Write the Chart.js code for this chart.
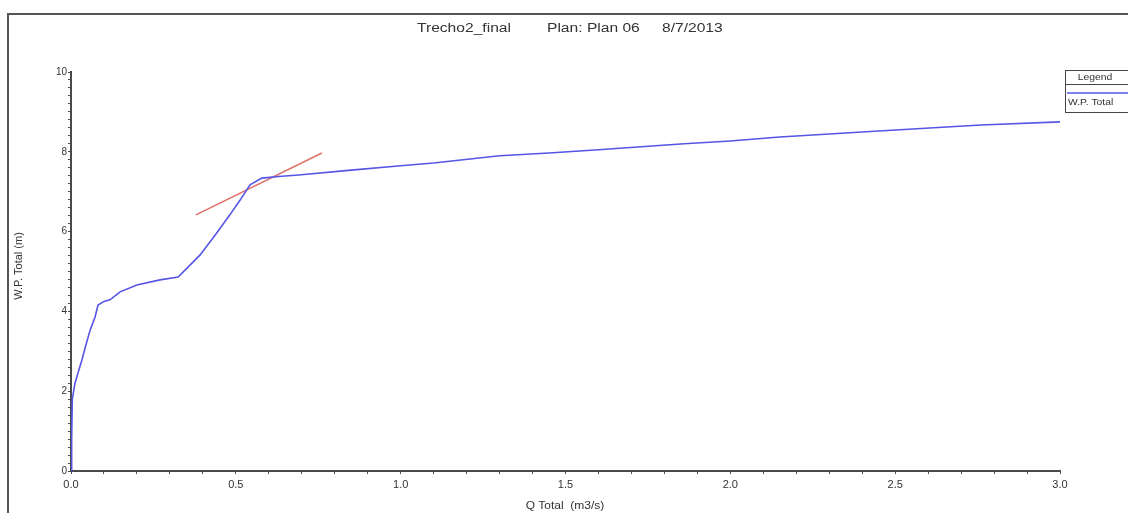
<!DOCTYPE html>
<html>
<head>
<meta charset="utf-8">
<script src="https://cdn.jsdelivr.net/npm/chart.js@4/dist/chart.umd.min.js"></script>
<style>
  html, body { margin: 0; padding: 0; background: #fff; }
  #wrap { position: relative; width: 1128px; height: 513px; }
</style>
</head>
<body>
<div id="wrap"><canvas id="graphCanvas" width="1128" height="513"></canvas></div>
<script>
// W.P. Total vs Q Total
var qTotal = [0, 0.002, 0.004, 0.008, 0.012, 0.021, 0.033, 0.045, 0.058, 0.073, 0.082, 0.1, 0.118, 0.149, 0.2, 0.27, 0.325,
              0.391, 0.437, 0.482, 0.513, 0.543, 0.579, 0.63, 0.69, 0.85, 1.0, 1.1, 1.3, 1.45, 1.6, 1.86, 2.0, 2.15, 2.45, 2.76, 3.0];
var wpTotal = [0, 0.8, 1.8, 2.0, 2.2, 2.45, 2.78, 3.15, 3.53, 3.86, 4.16, 4.25, 4.29, 4.49, 4.66, 4.79, 4.86,
               5.41, 5.91, 6.42, 6.79, 7.17, 7.34, 7.38, 7.42, 7.54, 7.65, 7.72, 7.9, 7.97, 8.05, 8.2, 8.27, 8.37, 8.52, 8.67, 8.75];

// hand drawn tangent (red)
var tangentQ = [0.379, 0.761];
var tangentWP = [6.42, 7.97];

var xTickLabels = ['0.0', '0.5', '1.0', '1.5', '2.0', '2.5', '3.0'];
var yTickLabels = ['0', '2', '4', '6', '8', '10'];

var titleParts = ['Trecho2_final', 'Plan: Plan 06', '8/7/2013'];
var xTitle = 'Q Total  (m3/s)';
var yTitle = 'W.P. Total (m)';
var legendName = 'W.P. Total';

function toPoints(xs, ys) {
    var pts = [];
    for (var i = 0; i < xs.length; i++) pts.push({x: xs[i], y: ys[i]});
    return pts;
}

var textColor = '#333';
var axisColor = '#4a4a4a';
var lineBlue = '#5555e6';
var fontFam = '"Liberation Sans", Arial, sans-serif';

// the source picture is a bit stretched sideways, so is its text
function wideText(ctx, txt, x, y, sx, align) {
    ctx.save();
    ctx.translate(x, y);
    ctx.scale(sx, 1);
    ctx.textAlign = align || 'center';
    ctx.fillText(txt, 0, 0);
    ctx.restore();
}

var decorPlugin = {
    id: 'decor',
    afterDraw: function (chart) {
        var ctx = chart.ctx;
        ctx.save();
        // frame (left + top)
        ctx.strokeStyle = '#555';
        ctx.lineWidth = 2;
        ctx.beginPath();
        ctx.moveTo(8, 513);
        ctx.lineTo(8, 14);
        ctx.lineTo(1128, 14);
        ctx.stroke();

        ctx.fillStyle = textColor;
        ctx.textBaseline = 'middle';
        ctx.font = '12px ' + fontFam;
        wideText(ctx, titleParts[0], 417, 29, 1.3, 'left');
        wideText(ctx, titleParts[1], 547, 29, 1.3, 'left');
        wideText(ctx, titleParts[2], 662, 29, 1.3, 'left');

        ctx.font = '10px ' + fontFam;
        wideText(ctx, xTitle, 565, 506, 1.2);

        ctx.save();
        ctx.translate(19, 266);
        ctx.rotate(-Math.PI / 2);
        ctx.font = '11px ' + fontFam;
        ctx.textAlign = 'center';
        ctx.fillText(yTitle, 0, 0);
        ctx.restore();

        // legend box
        ctx.strokeStyle = '#444';
        ctx.lineWidth = 1;
        ctx.strokeRect(1065.5, 70.5, 70, 42);
        ctx.beginPath();
        ctx.moveTo(1065.5, 84.5);
        ctx.lineTo(1128, 84.5);
        ctx.stroke();
        ctx.font = '9px ' + fontFam;
        wideText(ctx, 'Legend', 1095, 77.5, 1.15);
        ctx.strokeStyle = lineBlue;
        ctx.lineWidth = 1.5;
        ctx.beginPath();
        ctx.moveTo(1067, 93);
        ctx.lineTo(1128, 93);
        ctx.stroke();
        wideText(ctx, legendName, 1068, 103, 1.15, 'left');
        ctx.restore();
    }
};

var graphTarget = document.getElementById('graphCanvas');

new Chart(graphTarget, {
    type: 'scatter',
    data: {
        datasets: [
            {
                label: legendName,
                data: toPoints(qTotal, wpTotal),
                showLine: true,
                borderColor: lineBlue,
                borderWidth: 1.6,
                pointRadius: 0,
                tension: 0
            },
            {
                label: 'tangent',
                data: toPoints(tangentQ, tangentWP),
                showLine: true,
                borderColor: '#e0706a',
                borderWidth: 1.5,
                pointRadius: 0
            }
        ]
    },
    options: {
        responsive: false,
        animation: false,
        layout: { padding: { left: 0, top: 72, right: 68, bottom: 0 } },
        plugins: { legend: { display: false }, title: { display: false }, tooltip: { enabled: false } },
        scales: {
            x: {
                type: 'linear',
                min: 0, max: 3,
                afterFit: function (s) { s.height = 42; },
                afterBuildTicks: function (s) {
                    var t = [];
                    for (var i = 0; i <= 30; i++) t.push({value: i / 10});
                    s.ticks = t;
                },
                ticks: {
                    autoSkip: false,
                    maxRotation: 0,
                    color: textColor,
                    font: { size: 11, family: fontFam },
                    padding: 4,
                    callback: function (v) {
                        var k = Math.round(v * 10);
                        return k % 5 === 0 ? xTickLabels[k / 5] : '';
                    }
                },
                grid: { drawOnChartArea: false, drawTicks: true, tickLength: 3, color: axisColor },
                border: { color: axisColor, width: 2 }
            },
            y: {
                type: 'linear',
                min: 0, max: 10,
                afterFit: function (s) { s.width = 71; },
                afterBuildTicks: function (s) {
                    var t = [];
                    for (var i = 0; i <= 50; i++) t.push({value: i / 5});
                    s.ticks = t;
                },
                ticks: {
                    autoSkip: false,
                    color: textColor,
                    font: { size: 10, family: fontFam },
                    padding: 1,
                    callback: function (v) {
                        var k = Math.round(v * 5);
                        return k % 10 === 0 ? yTickLabels[k / 10] : '';
                    }
                },
                grid: { drawOnChartArea: false, drawTicks: true, tickLength: 3, color: axisColor },
                border: { color: axisColor, width: 2 }
            }
        }
    },
    plugins: [decorPlugin]
});
</script>
</body>
</html>
